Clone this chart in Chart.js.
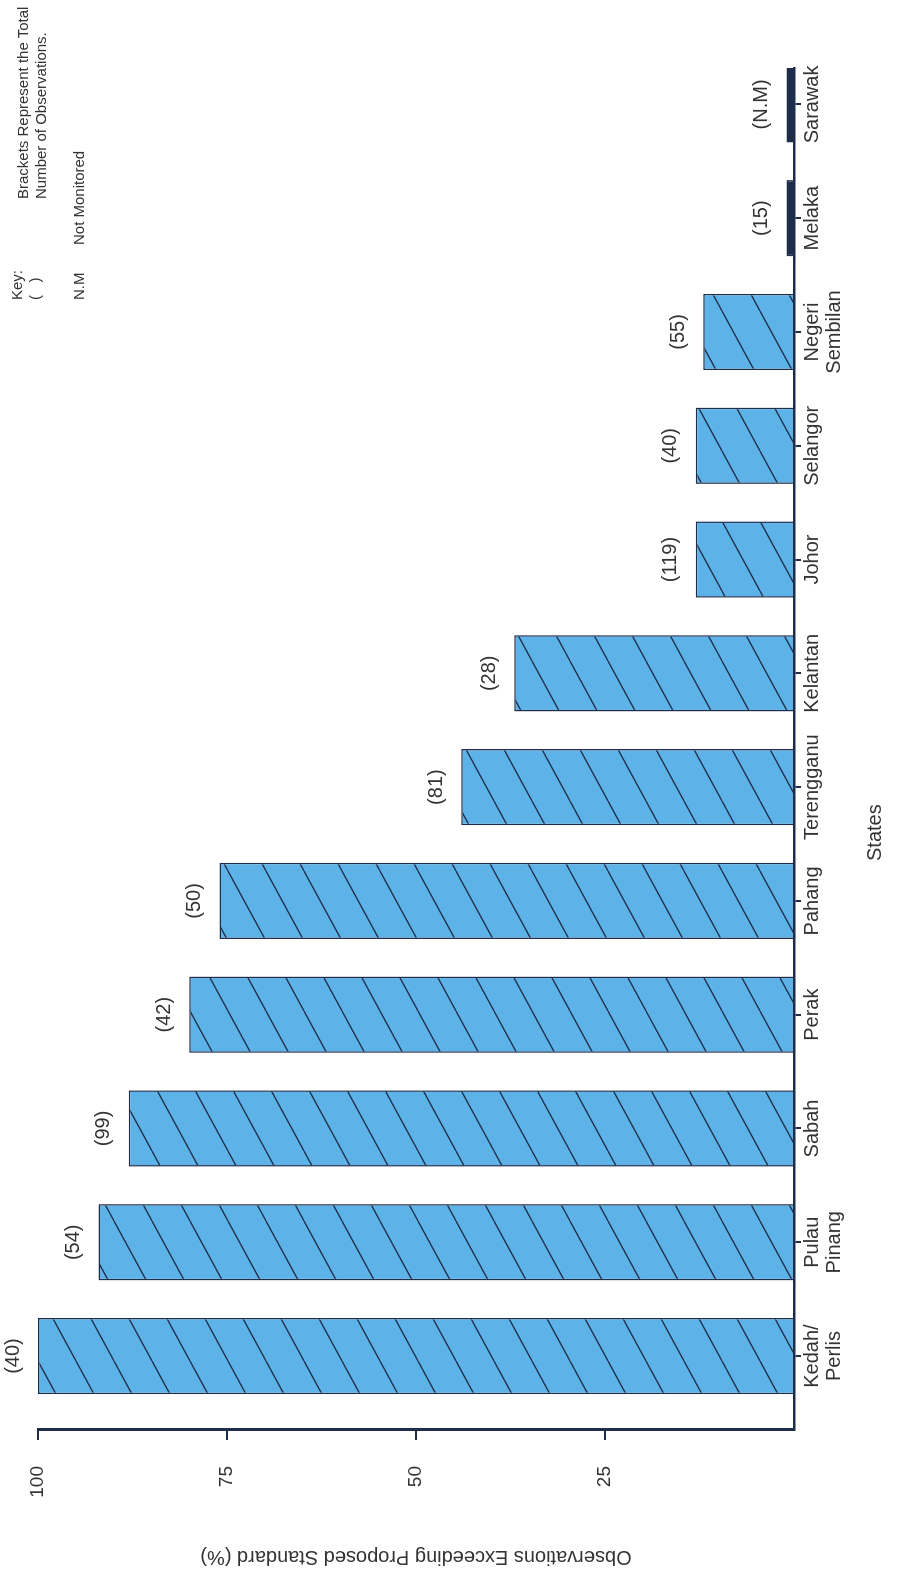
<!DOCTYPE html>
<html>
<head>
<meta charset="utf-8">
<script src="https://cdn.jsdelivr.net/npm/chart.js@4"></script>
<style>
  html, body { margin: 0; padding: 0; background: #fff; overflow: hidden; }
  body { width: 897px; height: 1571px; position: relative; }
  /* the page is a portrait scan of a landscape chart, so the whole chart is turned a quarter left */
  #turn {
    position: absolute; left: 0; top: 0;
    width: 1571px; height: 897px;
    transform-origin: 0 0;
    transform: translateY(1571px) rotate(-90deg);
    font-family: "Liberation Sans", Arial, sans-serif;
    color: #333;
  }
  .key { position: absolute; font-size: 15px; line-height: 18px; white-space: nowrap; }
</style>
</head>
<body>
<div id="turn">
  <canvas id="chart" width="1571" height="897"></canvas>
  <div class="key" style="left:1271px; top:8px">Key:<br>(&nbsp;&nbsp;&nbsp;)</div>
  <div class="key" style="left:1372px; top:14px">Brackets Represent the Total<br>Number of Observations.</div>
  <div class="key" style="left:1271px; top:70px">N.M</div>
  <div class="key" style="left:1326px; top:70px">Not Monitored</div>
</div>
<script>
const states = [['Kedah/', 'Perlis'], ['Pulau', 'Pinang'], 'Sabah', 'Perak', 'Pahang', 'Terengganu',
  'Kelantan', 'Johor', 'Selangor', ['Negeri', 'Sembilan'], 'Melaka', 'Sarawak']
const exceeding = [100, 92, 88, 80, 76, 44, 37, 13, 13, 12, 1, 1]
const observations = ['(40)', '(54)', '(99)', '(42)', '(50)', '(81)', '(28)', '(119)', '(40)', '(55)', '(15)', '(N.M)']
const valueTicks = [0, 25, 50, 75, 100]

const blue = '#5db3e8'
const navy = '#1f2d4a'
const ink = '#333'
const font = '"Liberation Sans", Arial, sans-serif'

// light blue fill with the thin diagonal hatching of the print
function hatch() {
  const c = document.createElement('canvas')
  c.width = 70; c.height = 38
  const g = c.getContext('2d')
  g.fillStyle = blue
  g.fillRect(0, 0, 70, 38)
  g.strokeStyle = navy
  g.lineWidth = 1.4
  for (const k of [-1, 0, 1]) {
    g.beginPath()
    g.moveTo(0, 38 + k * 38)
    g.lineTo(70, k * 38)
    g.stroke()
  }
  return g.createPattern(c, 'repeat')
}
const fill = hatch()

const bracketLabels = {
  id: 'bracketLabels',
  afterDatasetsDraw(chart) {
    const ctx = chart.ctx
    ctx.save()
    ctx.font = '20px ' + font
    ctx.fillStyle = ink
    ctx.textAlign = 'center'
    ctx.textBaseline = 'middle'
    chart.getDatasetMeta(0).data.forEach((bar, i) => {
      ctx.fillText(observations[i], bar.x, bar.y - 25)
    })
    ctx.restore()
  }
}

// the "States" caption sits a little left of the axis middle in the print
const statesTitle = {
  id: 'statesTitle',
  afterDraw(chart) {
    const ctx = chart.ctx
    const x = chart.scales.x
    ctx.save()
    ctx.font = '20px ' + font
    ctx.fillStyle = ink
    ctx.textAlign = 'center'
    ctx.textBaseline = 'middle'
    ctx.fillText('States', x.getPixelForValue(4.6), chart.height - 22)
    ctx.restore()
  }
}

Chart.defaults.font.family = font
Chart.defaults.font.size = 20
Chart.defaults.color = ink

new Chart(document.getElementById('chart'), {
  type: 'bar',
  data: {
    datasets: [{
      data: exceeding.map((v, i) => ({ x: i, y: v })),
      backgroundColor: states.map(s => s === 'Melaka' || s === 'Sarawak' ? navy : fill),
      borderColor: navy,
      borderWidth: 1.5,
      borderSkipped: 'bottom',
      categoryPercentage: 1,
      barPercentage: 0.67
    }]
  },
  options: {
    responsive: false,
    animation: false,
    layout: { padding: { top: 38, right: 68, bottom: 0, left: 0 } },
    plugins: { legend: { display: false }, tooltip: { enabled: false } },
    scales: {
      x: {
        type: 'linear',
        min: -0.65,
        max: 11.32,
        offset: false,
        afterFit: s => { s.height = 103 },
        afterBuildTicks: s => { s.ticks = states.map((c, i) => ({ value: i })) },
        ticks: {
          padding: 0,
          font: { size: 20, lineHeight: 1.1 },
          callback: v => states[v]
        },
        grid: { drawOnChartArea: false, offset: false, tickLength: 7, color: navy, lineWidth: 2 },
        border: { display: true, color: navy, width: 2.5 }
      },
      y: {
        min: 0,
        max: 100,
        afterFit: s => { s.width = 141 },
        afterBuildTicks: s => { s.ticks = valueTicks.map(v => ({ value: v })) },
        ticks: {
          padding: 26,
          font: { size: 19 },
          callback: v => v === 0 ? '' : v
        },
        grid: {
          drawOnChartArea: false,
          tickLength: 10,
          color: navy,
          lineWidth: 2,
          tickColor: c => c.tick && c.tick.value === 0 ? 'rgba(0,0,0,0)' : navy
        },
        border: { display: true, color: navy, width: 3 },
        title: {
          display: true,
          text: 'Observations Exceeding Proposed Standard (%)',
          font: { size: 20 },
          padding: { top: 2, bottom: 0 }
        }
      }
    }
  },
  plugins: [bracketLabels, statesTitle]
})
</script>
</body>
</html>
